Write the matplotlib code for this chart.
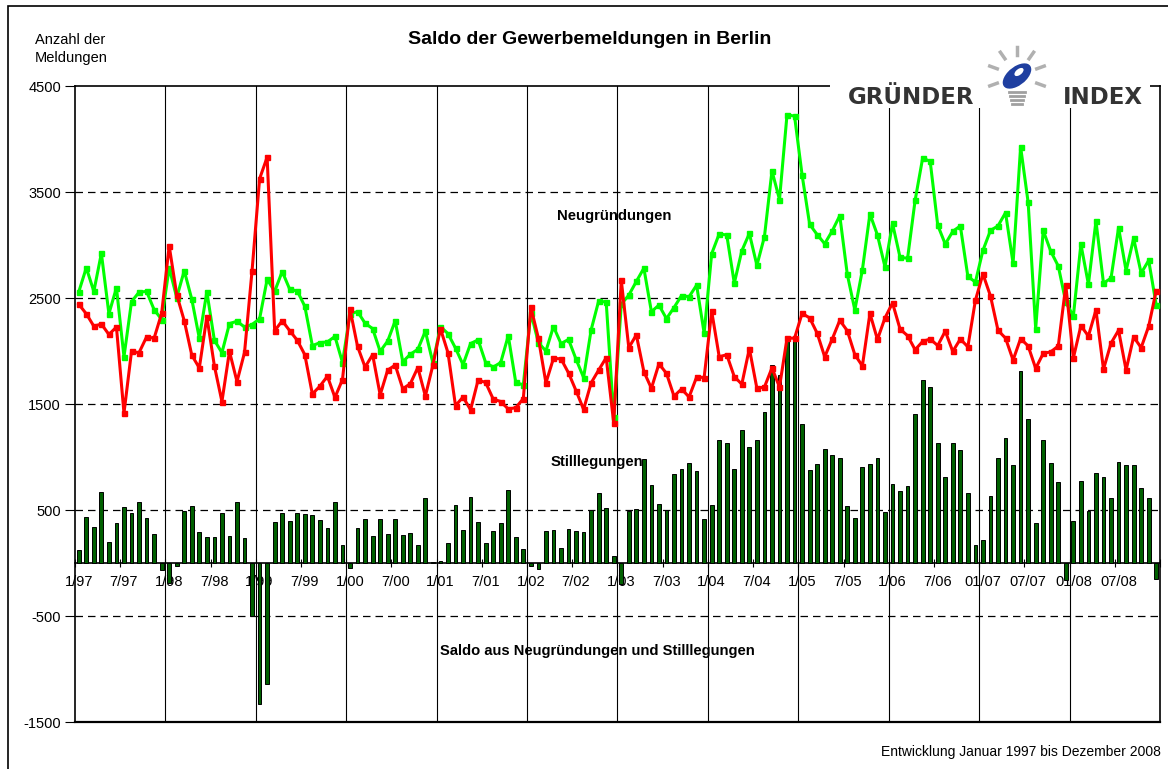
import matplotlib.pyplot as plt
import numpy as np
from matplotlib.patches import Rectangle, Ellipse
from matplotlib.lines import Line2D

plt.rcParams['font.family'] = ['Liberation Sans', 'DejaVu Sans']
plt.rcParams['axes.unicode_minus'] = False

# monthly values Jan 1997 - Dec 2008
neugruendungen = [
    2558, 2785, 2562, 2922, 2351, 2597, 1945, 2465, 2555, 2562, 2390, 2297,
    2785, 2504, 2758, 2488, 2121, 2558, 2101, 1984, 2258, 2281, 2226, 2250,
    2304, 2676, 2562, 2750, 2582, 2566, 2422, 2051, 2078, 2086, 2137, 1891,
    2351, 2371, 2262, 2211, 1996, 2094, 2285, 1898, 1969, 2016, 2187, 1887,
    2230, 2164, 2027, 1871, 2070, 2105, 1891, 1848, 1891, 2144, 1703, 1680,
    2363, 2078, 2000, 2230, 2070, 2109, 1922, 1750, 2199, 2472, 2461, 1379,
    2441, 2527, 2656, 2781, 2371, 2433, 2305, 2410, 2523, 2512, 2621, 2168,
    2918, 3105, 3094, 2640, 2945, 3109, 2808, 3078, 3699, 3429, 4230, 4215,
    3660, 3195, 3098, 3012, 3133, 3277, 2722, 2387, 2765, 3293, 3094, 2793,
    3203, 2883, 2875, 3422, 3820, 3789, 3187, 3008, 3129, 3180, 2703, 2650,
    2949, 3137, 3180, 3305, 2828, 3926, 3402, 2211, 3137, 2941, 2801, 2461,
    2328, 3008, 2629, 3226, 2640, 2687, 3164, 2758, 3062, 2734, 2855, 2433,
]
stilllegungen = [
    2441, 2351, 2234, 2254, 2156, 2226, 1414, 1996, 1984, 2133, 2121, 2355,
    2992, 2531, 2285, 1961, 1840, 2324, 1859, 1523, 1996, 1711, 1986, 2758,
    3625, 3828, 2191, 2285, 2191, 2101, 1965, 1594, 1668, 1762, 1562, 1730,
    2394, 2043, 1848, 1965, 1586, 1820, 1867, 1644, 1691, 1844, 1574, 1867,
    2211, 1984, 1484, 1566, 1445, 1726, 1703, 1547, 1523, 1453, 1465, 1551,
    2414, 2121, 1699, 1930, 1926, 1793, 1625, 1449, 1699, 1820, 1937, 1320,
    2668, 2031, 2152, 1805, 1648, 1879, 1789, 1574, 1641, 1566, 1754, 1750,
    2375, 1945, 1965, 1758, 1687, 2023, 1648, 1660, 1840, 1660, 2121, 2121,
    2355, 2312, 2168, 1945, 2113, 2289, 2191, 1965, 1859, 2355, 2109, 2312,
    2453, 2207, 2144, 2012, 2090, 2113, 2051, 2187, 1996, 2113, 2039, 2478,
    2726, 2519, 2195, 2121, 1914, 2117, 2047, 1836, 1977, 1992, 2047, 2621,
    1934, 2238, 2141, 2387, 1828, 2074, 2195, 1820, 2133, 2031, 2234, 2570,
]
saldo = [
    121, 437, 336, 672, 195, 375, 531, 469, 578, 422, 273, -70,
    -190, -25, 488, 535, 289, 242, 242, 469, 258, 578, 238, -504,
    -1330, -1145, 383, 473, 398, 473, 461, 457, 410, 328, 578, 168,
    -47, 332, 414, 254, 418, 273, 418, 262, 281, 172, 609, 12,
    16, 184, 543, 312, 621, 383, 187, 305, 375, 691, 242, 129,
    -30, -55, 305, 309, 141, 320, 305, 297, 504, 660, 523, 70,
    -200, 492, 508, 980, 734, 559, 504, 836, 883, 941, 867, 418,
    547, 1160, 1133, 887, 1258, 1094, 1160, 1422, 1867, 1769, 2101, 2101,
    1309, 879, 930, 1074, 1023, 988, 535, 422, 906, 937, 988, 480,
    742, 676, 727, 1410, 1727, 1664, 1133, 812, 1133, 1063, 664, 168,
    219, 629, 988, 1180, 922, 1808, 1355, 375, 1160, 945, 766, -156,
    395, 770, 492, 848, 812, 609, 957, 922, 922, 703, 617, -148,
]
tick_labels = ['1/97', '7/97', '1/98', '7/98', '1/99', '7/99', '1/00', '7/00',
               '1/01', '7/01', '1/02', '7/02', '1/03', '7/03', '1/04', '7/04',
               '1/05', '7/05', '1/06', '7/06', '01/07', '07/07', '01/08', '07/08']

W, H = 1168, 769


def fx(px):
    return px / W


def fy(py):
    return 1 - py / H


fig = plt.figure(figsize=(W / 100, H / 100), dpi=100)
ax = fig.add_axes([fx(75), fy(722), fx(1160) - fx(75), fy(86) - fy(722)])

x = np.arange(len(neugruendungen))
ax.bar(x, saldo, width=0.5, color='#006000', edgecolor='black', linewidth=0.7, zorder=3)
ax.plot(x, neugruendungen, color='#00ff00', lw=2.2, marker='s', ms=3.6, zorder=4)
ax.plot(x, stilllegungen, color='#ff0000', lw=2.2, marker='s', ms=3.6, zorder=5)

ax.set_xlim(-0.5, len(x) - 0.5)
ax.set_ylim(-1500, 4500)

# dashed gridlines and year separators
for v in [-500, 500, 1500, 2500, 3500]:
    ax.axhline(v, color='black', lw=0.9, ls=(0, (6, 4)), zorder=1)
for b in np.arange(11.5, len(x) - 1, 12):
    ax.axvline(b, color='black', lw=0.8, zorder=1)

ax.set_yticks(np.arange(-1500, 4501, 1000))
ax.tick_params(axis='y', direction='out', length=7, width=0.8, labelsize=10.5, pad=3)

ax.spines['bottom'].set_position(('data', 0))
ax.set_xticks(np.arange(0, len(x), 6))
ax.set_xticklabels(tick_labels)
ax.set_xticks(np.arange(-0.5, len(x), 6), minor=True)
ax.tick_params(axis='x', which='major', length=0, labelsize=10.5, pad=9)
ax.tick_params(axis='x', which='minor', direction='inout', length=6, width=0.8)
ax.axhline(-1500, color='black', lw=1.6, clip_on=False, zorder=6)
for s in ax.spines.values():
    s.set_linewidth(1.2)

ax.text(71, 3270, 'Neugründungen', ha='center', va='center', fontsize=10.7, fontweight='bold')
ax.text(68.8, 950, 'Stilllegungen', ha='center', va='center', fontsize=10.7, fontweight='bold')
ax.text(68.8, -830, 'Saldo aus Neugründungen und Stilllegungen', ha='center', va='center',
        fontsize=10.6, fontweight='bold')

fig.text(fx(590), fy(40), 'Saldo der Gewerbemeldungen in Berlin', ha='center', va='center',
         fontsize=14, fontweight='bold')
fig.text(fx(35), fy(49), 'Anzahl der\nMeldungen', ha='left', va='center', fontsize=10.5,
         linespacing=1.35)
fig.text(fx(1161), fy(752), 'Entwicklung Januar 1997 bis Dezember 2008', ha='right',
         va='center', fontsize=10)

# logo block
fig.add_artist(Rectangle((fx(830), fy(108)), fx(1150) - fx(830), fy(80) - fy(108),
                         transform=fig.transFigure, facecolor='white', edgecolor='none', zorder=2))
fig.text(fx(911), fy(98), 'GRÜNDER', ha='center', va='center', fontsize=16.5,
         fontweight='bold', color='#333333', family='DejaVu Sans', zorder=3)
fig.text(fx(1103), fy(98), 'INDEX', ha='center', va='center', fontsize=16.5,
         fontweight='bold', color='#333333', family='DejaVu Sans', zorder=3)
cx, cy = 1017, 76
for ang in [-20, 20, 55, 90, 125, 160, 200]:
    a = np.deg2rad(ang)
    x0, y0 = cx + 21 * np.cos(a), cy - 21 * np.sin(a)
    x1, y1 = cx + 29 * np.cos(a), cy - 29 * np.sin(a)
    fig.add_artist(Line2D([fx(x0), fx(x1)], [fy(y0), fy(y1)], transform=fig.transFigure,
                          color='#b0b0b0', lw=2.5, zorder=3))
fig.add_artist(Ellipse((fx(cx), fy(cy)), fx(22), fx(28) * W / H, angle=-30,
                       transform=fig.transFigure, facecolor='#1f3fa0', edgecolor='none', zorder=3))
fig.add_artist(Ellipse((fx(cx + 2), fy(cy - 4)), fx(7), fx(9) * W / H, angle=-30,
                       transform=fig.transFigure, facecolor='white', edgecolor='none', zorder=4))
for k in range(4):
    fig.add_artist(Line2D([fx(cx - 8 + k), fx(cx + 8 - k)], [fy(cy + 16 + 4 * k), fy(cy + 16 + 4 * k)],
                          transform=fig.transFigure, color='#a0a0a0', lw=2, zorder=3))

# outer frame
fig.add_artist(Rectangle((fx(8), fy(772)), fx(1172) - fx(8), fy(6) - fy(772),
                         transform=fig.transFigure, facecolor='none', edgecolor='black', lw=1.2))

fig.savefig('out.png', dpi=100)
